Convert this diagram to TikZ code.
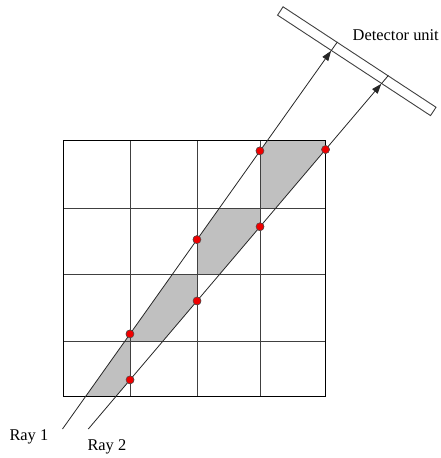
\documentclass[tikz,border=0pt]{standalone}
\usepackage{fontspec}
\setmainfont{Liberation Serif}
\usepackage{tikz}
\usetikzlibrary{arrows.meta, positioning, calc}
\usepackage{xcolor}
\definecolor{cellgray}{RGB}{192,192,192}
\definecolor{hitred}{RGB}{240,0,0}
\tikzset{
    % Grid
    gline/.style={line width=1pt, black!75},
    gframe/.style={line width=1pt, black},
    cellfill/.style={fill=cellgray},
    % Rays
    rayline/.style={line width=0.8pt, black!85},
    rayarrow/.style={-{Triangle[length=10pt, width=7pt]}, line width=0.8pt, black!85},
    hit/.style={circle, fill=hitred, draw=black!70, line width=0.5pt,
                minimum size=8pt, inner sep=0pt},
    % Detector
    detbox/.style={rectangle, draw=black!75, fill=white, line width=0.9pt,
                  minimum width=183pt, minimum height=10pt, inner sep=0pt},
    lbl/.style={font=\fontsize{16.4}{19}\selectfont, inner sep=0pt, anchor=base west},
}

\begin{document}
\begin{tikzpicture}[x=1pt, y=-1pt]
\useasboundingbox (0,0) rectangle (440,458);

% ray ends and aim points
\coordinate (r1s) at (62.5,429);
\coordinate (r1a) at (329.5,53);
\coordinate (r2s) at (88.3,429);
\coordinate (r2a) at (378.3,87.3);

% hits on the vertical grid lines
\node[hit] (h11) at (intersection of r1s--r1a and 130,140--130,396) {};
\node[hit] (h12) at (intersection of r1s--r1a and 197,140--197,396) {};
\node[hit] (h13) at (intersection of r1s--r1a and 260,140--260,396) {};
\node[hit] (h21) at (intersection of r2s--r2a and 130,140--130,396) {};
\node[hit] (h22) at (intersection of r2s--r2a and 197,140--197,396) {};
\node[hit] (h23) at (intersection of r2s--r2a and 260,140--260,396) {};
\node[hit] (h24) at (intersection of r2s--r2a and 325.5,140--325.5,396) {};

% shaded cells between the rays
\fill[cellfill] (intersection of r1s--r1a and 63,396--325,396)
    -- (intersection of r2s--r2a and 63,396--325,396)
    -- (h21.center) -- (h11.center) -- cycle;
\fill[cellfill] (h11.center) -- (intersection of r1s--r1a and 63,274--325,274)
    -- (197,274) -- (h22.center)
    -- (intersection of r2s--r2a and 63,341--325,341) -- (130,341) -- cycle;
\fill[cellfill] (h12.center) -- (intersection of r1s--r1a and 63,208--325,208)
    -- (260,208) -- (h23.center)
    -- (intersection of r2s--r2a and 63,274--325,274) -- (197,274) -- cycle;
\fill[cellfill] (h13.center) -- (intersection of r1s--r1a and 63,140--325,140)
    -- (325.5,140) -- (h24.center)
    -- (intersection of r2s--r2a and 63,208--325,208) -- (260,208) -- cycle;

% grid
\foreach \gx in {130,197,260}
    \draw[gline] (\gx,140) -- (\gx,396);
\foreach \gy in {208,274,341}
    \draw[gline] (63,\gy) -- (325.5,\gy);
\draw[gframe] (63,140) rectangle (325.5,396);

% detector
\node[detbox, rotate=-33.3] (det) at (356.8,61.2) {};
\coordinate (e1) at (intersection of r1s--r1a and det.south west--det.south east);
\coordinate (e2) at (intersection of r2s--r2a and det.south west--det.south east);
\coordinate (t1) at (intersection of r1s--r1a and det.north west--det.north east);
\coordinate (t2) at (intersection of r2s--r2a and det.north west--det.north east);

\draw[rayarrow] (r1s) -- (e1);
\draw[rayarrow] (r2s) -- (e2);
\draw[rayline] (e1) -- (t1);
\draw[rayline] (e2) -- (t2);

% hits again on top
\foreach \h in {h11,h12,h13,h21,h22,h23,h24}
    \node[hit] at (\h) {};

\node[lbl] (detlbl) at (352.5,40.7) {Detector unit};
\node[lbl] (ray1lbl) at (9.3,440.7) {Ray 1};
\node[lbl] (ray2lbl) at (87.3,450.7) {Ray 2};
\end{tikzpicture}
\end{document}
